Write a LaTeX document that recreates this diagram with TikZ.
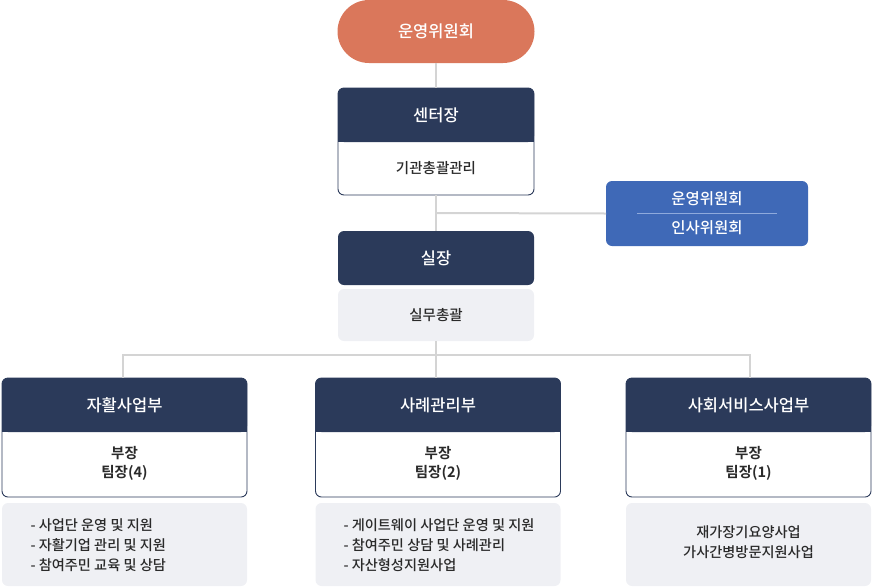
\documentclass[tikz,border=0pt]{standalone}
\usepackage{fontspec}
\setmainfont{Noto Sans CJK KR}[UprightFont=* Medium,BoldFont=* Bold]
\definecolor{navy}{HTML}{2B3A5A}
\definecolor{coral}{HTML}{DA775B}
\definecolor{blu}{HTML}{3F69B7}
\definecolor{sepblue}{HTML}{8FAADC}
\definecolor{lgray}{HTML}{EFF0F4}
\definecolor{conn}{HTML}{D4D4D4}
\definecolor{txt}{HTML}{2A2A2A}
\begin{document}
\begin{tikzpicture}[x=1pt,y=-1pt,
  link/.style={draw=conn,line width=2pt},
  base/.style={inner sep=0pt,outer sep=0pt,rectangle},
  pill/.style={base,fill=coral,text=white,rounded corners=31.5pt,minimum width=197pt,minimum height=63pt,font=\fontsize{16.5}{19}\selectfont},
  outerbox/.style={base,draw=navy,line width=0.9pt,fill=white,rounded corners=6pt,minimum width=#1,minimum height=107pt},
  deptbox/.style={base,draw=navy,line width=0.9pt,fill=white,rounded corners=6pt,minimum width=245pt,minimum height=119pt},
  head/.style={base,fill=navy,text=white,rounded corners=6pt,minimum width=#1,minimum height=54pt,font=\fontsize{16.5}{19}\selectfont},
  graybox/.style={base,fill=lgray,rounded corners=6pt,minimum width=#1},
  bodytxt/.style={text=txt,font=\fontsize{14.5}{17}\selectfont},
  roletxt/.style={text=txt,align=center,font=\fontsize{14.5}{19}\selectfont\bfseries},
  listtxt/.style={text=txt,font=\fontsize{14.2}{20}\selectfont},
  bluebox/.style={base,fill=blu,rounded corners=6pt,minimum width=202pt,minimum height=65pt},
  bluetxt/.style={text=white,font=\fontsize{15.5}{18}\selectfont}
]
\useasboundingbox (0,0) rectangle (872,587);

\coordinate (j1) at (436,213);
\coordinate (j2) at (436,355);

% top committee
\node[pill] (top) at (436,31.5) {운영위원회};

% center head
\node[outerbox=196pt] (c) at (436,141.5) {};
\fill[navy] (338,115) rectangle (534,142);
\node[head=196pt] (ch) at (436,115) {센터장};
\node[bodytxt] (ct) at (436,168) {기관총괄관리};

% blue committee box
\node[bluebox] (bl) at (707,213.5) {};
\node[bluetxt] (bl1) at (707,199) {운영위원회};
\node[bluetxt] (bl2) at (707,227.5) {인사위원회};
\draw[sepblue,line width=0.8pt] (637,213) -- (777,213);

% chief
\node[head=196pt] (s) at (436,258) {실장};
\node[graybox=196pt,minimum height=52pt] (sw) at (436,315) {};
\node[bodytxt] (swt) at (436,315) {실무총괄};

% departments
\foreach \n/\x/\t/\r in {d1/124.5/자활사업부/4, d2/438/사례관리부/2, d3/748.5/사회서비스사업부/1}{
  \node[deptbox] (\n) at (\x,437.5) {};
  \fill[navy] (\x-122.5,405) rectangle (\x+122.5,432);
  \node[head=245pt] (\n h) at (\x,405) {\t};
  \node[roletxt] (\n r) at (\x,463) {부장\\팀장(\r)};
  \node[graybox=245pt,minimum height=83pt] (\n g) at (\x,544.5) {};
}
\node[listtxt,align=left,anchor=west] (l1) at (27,545) {- 사업단 운영 및 지원\\- 자활기업 관리 및 지원\\- 참여주민 교육 및 상담};
\node[listtxt,align=left,anchor=west] (l2) at (340,545) {- 게이트웨이 사업단 운영 및 지원\\- 참여주민 상담 및 사례관리\\- 자산형성지원사업};
\node[listtxt,align=center] (l3) at (748.5,542) {재가장기요양사업\\가사간병방문지원사업};

% connector lines
\draw[link] (top.south) -- (c.north);
\draw[link] (c.south) -- (s.north);
\draw[link] (j1) -- (bl.west);
\draw[link] (sw.south) -- (j2);
\draw[link] (j2) -- (j2 |- d2.north);
\draw[link] (j2) -| ([xshift=-1.5pt]d1.north);
\draw[link] (j2) -| ([xshift=1.5pt]d3.north);
\end{tikzpicture}
\end{document}
